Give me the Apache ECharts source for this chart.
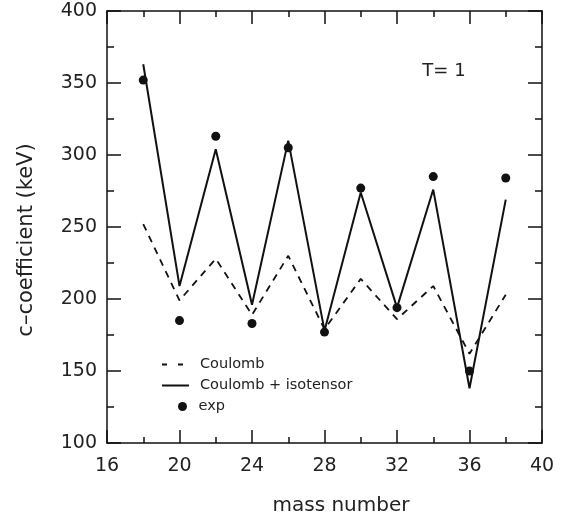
<!DOCTYPE html>
<html>
<head>
<meta charset="utf-8">
<script src="https://cdn.jsdelivr.net/npm/echarts@6/dist/echarts.min.js"></script>
<style>
html,body{margin:0;padding:0;background:#fff;}
#chart{width:571px;height:518px;}
</style>
</head>
<body>
<div id="chart"></div>
<script>
// Data
var massNumbers = [18, 20, 22, 24, 26, 28, 30, 32, 34, 36, 38];
var coulomb     = [252, 199, 228, 189, 230, 179, 214, 186, 209, 162, 203];
var isotensor   = [363, 209, 304, 196, 310, 178, 274, 194, 276, 138, 269];
var expValues   = [352, 185, 313, 183, 305, 177, 277, 194, 285, 150, 284];

var xTicks = {min: 16, max: 40, step: 4};
var yTicks = {min: 100, max: 400, step: 50};

var seriesNames = ['Coulomb', 'Coulomb + isotensor', 'exp'];
var xTitle = 'mass number';
var yTitle = 'c\u2013coefficient (keV)';
var annotation = 'T= 1';

function pairs(xs, ys) { return xs.map(function (x, i) { return [x, ys[i]]; }); }

var FONT = 'DejaVu Sans, sans-serif';
var INK = '#111';
var TXT = '#222';

function xAxisDef(pos, showLabels) {
  return {
    type: 'value', position: pos, min: xTicks.min, max: xTicks.max, interval: xTicks.step,
    axisLine: {show: true, onZero: false, lineStyle: {color: INK, width: 1.5}},
    axisTick: {show: true, inside: true, length: 13, lineStyle: {color: INK, width: 1.5}},
    minorTick: {show: true, splitNumber: 2, length: 6, lineStyle: {color: INK, width: 1.5}},
    axisLabel: {show: showLabels, fontSize: 19, color: TXT, fontFamily: FONT, margin: 14},
    splitLine: {show: false}
  };
}
function yAxisDef(pos, showLabels) {
  return {
    type: 'value', position: pos, min: yTicks.min, max: yTicks.max, interval: yTicks.step,
    axisLine: {show: true, onZero: false, lineStyle: {color: INK, width: 1.5}},
    axisTick: {show: true, inside: true, length: 14, lineStyle: {color: INK, width: 1.5}},
    minorTick: {show: true, splitNumber: 2, length: 7, lineStyle: {color: INK, width: 1.5}},
    axisLabel: {show: showLabels, fontSize: 19, color: TXT, fontFamily: FONT, margin: 10},
    splitLine: {show: false}
  };
}

var hiddenSymbol = {color: 'rgba(0,0,0,0)', borderColor: 'rgba(0,0,0,0)', borderWidth: 0};

function legendDef(name, left, top, w, extra) {
  var item = {name: name};
  if (extra) { for (var k in extra) item[k] = extra[k]; }
  return {
    orient: 'vertical', left: left, top: top, itemWidth: w, itemHeight: 9, itemGap: 0,
    selectedMode: false, padding: 0,
    textStyle: {fontSize: 14.5, color: TXT, fontFamily: FONT, padding: [0, 0, 0, 6]},
    data: [item]
  };
}

var chart = echarts.init(document.getElementById('chart'), null, {renderer: 'canvas'});
chart.setOption({
  animation: false,
  backgroundColor: '#fff',
  grid: {left: 107, right: 29, top: 11, bottom: 75, containLabel: false},
  xAxis: [xAxisDef('bottom', true), xAxisDef('top', false)],
  yAxis: [yAxisDef('left', true), yAxisDef('right', false)],
  legend: [
    legendDef(seriesNames[0], 161, 357, 27, {itemStyle: hiddenSymbol, lineStyle: {type: [5, 11], width: 2, color: INK}}),
    legendDef(seriesNames[1], 161, 378, 27, {itemStyle: hiddenSymbol, lineStyle: {type: 'solid', width: 2, color: INK}}),
    legendDef(seriesNames[2], 178, 399, 10, {itemStyle: {color: INK, opacity: 1}})
  ],
  series: [
    {
      name: seriesNames[0], type: 'line', xAxisIndex: 0, yAxisIndex: 0,
      data: pairs(massNumbers, coulomb), symbol: 'none', color: INK,
      lineStyle: {color: INK, width: 1.8, type: [7, 6]}
    },
    {
      name: seriesNames[1], type: 'line', xAxisIndex: 0, yAxisIndex: 0,
      data: pairs(massNumbers, isotensor), symbol: 'none', color: INK,
      lineStyle: {color: INK, width: 2, type: 'solid'}
    },
    {
      name: seriesNames[2], type: 'scatter', xAxisIndex: 0, yAxisIndex: 0,
      data: pairs(massNumbers, expValues), symbol: 'circle', symbolSize: 9,
      itemStyle: {color: INK, opacity: 1}, z: 5
    }
  ],
  graphic: [
    {type: 'text', x: 341, y: 506, style: {text: xTitle, fontSize: 20, fill: TXT, fontFamily: FONT, align: 'center', verticalAlign: 'middle'}},
    {type: 'text', x: 27, y: 240, rotation: Math.PI / 2, style: {text: yTitle, fontSize: 21, fill: TXT, fontFamily: FONT, align: 'center', verticalAlign: 'middle'}},
    {type: 'text', x: 444, y: 71, style: {text: annotation, fontSize: 18, fill: TXT, fontFamily: FONT, align: 'center', verticalAlign: 'middle'}}
  ]
});
</script>
</body>
</html>
